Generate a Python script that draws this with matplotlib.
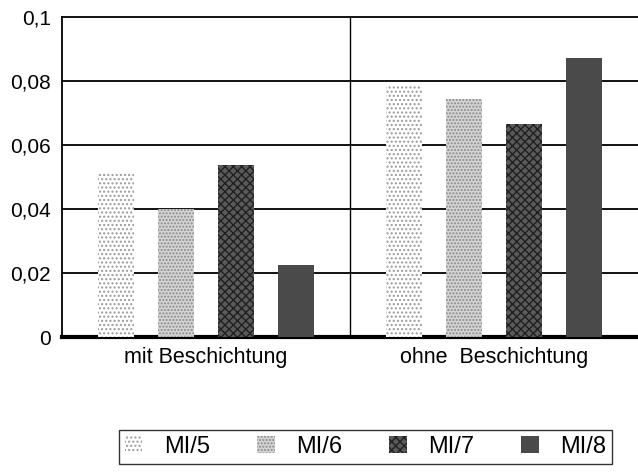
import numpy as np
import matplotlib.pyplot as plt
import matplotlib as mpl

plt.rcParams['font.family'] = ['Liberation Sans', 'DejaVu Sans']
mpl.rcParams['hatch.linewidth'] = 1.0

# Data for the two sample groups
groups = ['mit Beschichtung', 'ohne  Beschichtung']
series = ['MI/5', 'MI/6', 'MI/7', 'MI/8']
mi5 = [0.0515, 0.0785]
mi6 = [0.0400, 0.0745]
mi7 = [0.0537, 0.0665]
mi8 = [0.0225, 0.0872]
yticks = [0, 0.02, 0.04, 0.06, 0.08, 0.1]
ytick_labels = ['0', '0,02', '0,04', '0,06', '0,08', '0,1']

values = [mi5, mi6, mi7, mi8]
faces = ['white', '#d4d4d4', '#5a5a5a', '#4a4a4a']
hatch_colors = ['#9a9a9a', '#8a8a8a', '#202020', '#4a4a4a']
hatches = ['....', '.....', 'xxxx', None]

fig = plt.figure(figsize=(6.38, 4.74), dpi=100)
ax = fig.add_axes([0.097, 0.289, 0.903, 0.675])

x = np.arange(len(groups))
width = 0.125
step = 0.208
bars = []
for i, (vals, fc, hc, h) in enumerate(zip(values, faces, hatch_colors, hatches)):
    b = ax.bar(x + (i - 1.5) * step, vals, width, color=fc, edgecolor=hc,
               hatch=h, linewidth=0, label=series[i], zorder=3)
    bars.append(b)

ax.set_xlim(-0.5, 1.5)
ax.set_ylim(0, 0.1)
ax.set_yticks(yticks)
ax.set_yticklabels(ytick_labels, fontsize=15)
ax.set_xticks(x)
ax.set_xticklabels(groups, fontsize=15.5)
ax.tick_params(axis='both', length=0)
ax.tick_params(axis='x', pad=7)
ax.tick_params(axis='y', pad=8)

for y in yticks[1:-1]:
    ax.axhline(y, color='black', linewidth=1.3, zorder=1)
ax.axvline(0.5, color='black', linewidth=1.0, zorder=1)

ax.spines['right'].set_visible(False)
ax.spines['top'].set_linewidth(1.3)
ax.spines['left'].set_linewidth(1.3)
ax.spines['bottom'].set_linewidth(3)

leg = fig.legend(handles=bars, labels=series, loc='center', ncol=4,
                 bbox_to_anchor=(0.573, 0.943 - 0.886), fontsize=17, frameon=True,
                 fancybox=False, edgecolor='black', handlelength=0.75,
                 handleheight=0.75, columnspacing=2.0, handletextpad=0.9,
                 borderpad=0.25)
leg.get_frame().set_linewidth(1.0)

fig.savefig('out.png', dpi=100)
